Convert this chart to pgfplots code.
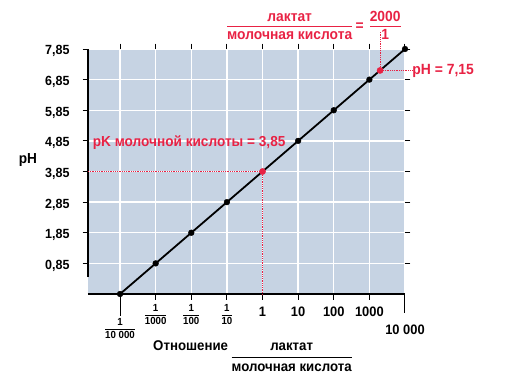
\documentclass[border=0pt]{standalone}
\usepackage{fontspec}
\setmainfont[FakeStretch=0.94]{Liberation Sans}
\usepackage{pgfplots}
\pgfplotsset{compat=1.18}
\definecolor{bg}{RGB}{198,211,227}
\definecolor{myred}{RGB}{232,34,68}
\setlength\arrayrulewidth{0.8pt}
\newcommand\fr[2]{\begin{tabular}{@{}c@{}}#1\\[0pt]\hline\noalign{\vskip1pt}#2\end{tabular}}
\newcommand\frb[2]{\begin{tabular}{@{}c@{}}#1\\[1pt]\hline\noalign{\vskip2pt}#2\end{tabular}}
\newcommand\sfr[2]{{\setlength\arrayrulewidth{0.6pt}\fontsize{10.3}{11}\selectfont\begin{tabular}{@{}c@{}}#1\\[0pt]\hline\noalign{\vskip1pt}#2\end{tabular}}}
\newcommand\bl[1]{\rule{0pt}{13pt}#1}
\tikzset{ylab/.style={anchor=base west, inner sep=0pt, font=\fontsize{13.3}{15}\selectfont}}
\begin{document}
\bfseries
\begin{tikzpicture}[x=1pt,y=1pt]
\begin{axis}[
  scale only axis, width=317pt, height=245pt,
  at={(0,0)}, anchor=south west,
  xmode=log, log basis x=10,
  xmin=1.2589e-5, xmax=10000, ymin=-0.15, ymax=7.85,
  clip=false,
  axis background/.style={fill=bg},
  axis line style={draw=none},
  grid=major, major grid style={white, line width=1.4pt},
  xtick={0.0001,0.001,0.01,0.1,1,10,100,1000,10000},
  xticklabels={{},{\sfr{1}{1000}},{\sfr{1}{100}},{\sfr{1}{10}},{\bl{1}},{\bl{10}},{\bl{100}},{\bl{1000}},{}},
  ytick={0.85,1.85,2.85,3.85,4.85,5.85,6.85,7.85},
  yticklabels={},
  tick align=outside, major tick length=5.5pt,
  tick style={black, line width=1pt},
  x tick label style={font=\fontsize{13.7}{15}\selectfont, anchor=north, inner sep=0pt, yshift=-4pt},
]
% axis lines and long end ticks
\draw[black, line width=1.2pt] (axis cs:1.2589e-5,-0.15) -- (axis cs:10000,-0.15);
\draw[black, line width=1.2pt] (axis cs:1.2589e-5,0.4) -- (axis cs:1.2589e-5,7.85);
\draw[black, line width=1pt] (axis cs:0.0001,-0.15) -- ([yshift=-22pt]axis cs:0.0001,-0.15);
\draw[black, line width=1pt] (axis cs:10000,-0.15) -- ([yshift=-19pt]axis cs:10000,-0.15);
% red guides
\draw[myred, line width=0.8pt, densely dotted] (axis cs:1.2589e-5,3.85) -- (axis cs:1,3.85) -- (axis cs:1,-0.15);
\draw[myred, line width=0.8pt, densely dotted] (axis cs:2000,8.41) -- (axis cs:2000,7.15) -- (axis cs:15500,7.15);
% data line
\addplot[black, line width=1.8pt] coordinates {(0.0001,-0.15)(0.001,0.85)(0.01,1.85)(0.1,2.85)(1,3.85)(10,4.85)(100,5.85)(1000,6.85)(10000,7.85)};
\addplot[only marks, black, mark=*, mark size=2.9pt] coordinates {(0.0001,-0.15)(0.001,0.85)(0.01,1.85)(0.1,2.85)(10,4.85)(100,5.85)(1000,6.85)(10000,7.85)};
\addplot[only marks, myred, mark=*, mark size=3.1pt] coordinates {(1,3.85)(2000,7.15)};
\node[myred, anchor=west, font=\fontsize{14.5}{16}\selectfont, inner sep=0pt] at (axis cs:1.7e-5,4.78) {pK молочной кислоты = 3,85};
\node[myred, anchor=west, font=\fontsize{14.8}{16}\selectfont, inner sep=0.5pt] at (axis cs:15500,7.15) {pH = 7,15};
\node[anchor=north, inner sep=0pt] at ([yshift=-24pt]axis cs:0.0001,-0.15) {\sfr{1}{10 000}};
\node[anchor=north, inner sep=0pt, font=\fontsize{13.7}{15}\selectfont] at ([yshift=-31pt]axis cs:10000,-0.15) {10 000};
\end{axis}
\begin{scope}[xshift=-88pt, yshift=294pt, y=-1pt]
% y tick labels
\node[ylab] at (45,54.8) {7,85};
\node[ylab] at (45,85.5) {6,85};
\node[ylab] at (45,116.1) {5,85};
\node[ylab] at (45,146.8) {4,85};
\node[ylab] at (45,177.5) {3,85};
\node[ylab] at (45,208.2) {2,85};
\node[ylab] at (45,238.8) {1,85};
\node[ylab] at (45,269.5) {0,85};
\node[font=\fontsize{14.5}{16}\selectfont] at (28,160) {pH};
\node[myred, font=\fontsize{14.7}{17}\selectfont, inner sep=0pt, anchor=west] at (227,27) {\fr{лактат}{молочная кислота}\hspace{3.5pt}=\hspace{6pt}\fr{2000}{1}};
\node[font=\fontsize{14.1}{17}\selectfont, inner sep=0pt, anchor=base west] at (153,350) {Отношение \raisebox{-11.5pt}{\frb{лактат}{молочная кислота}}};
\end{scope}
\pgfresetboundingbox
\path (-88,-90) rectangle (418,294);
\end{tikzpicture}
\end{document}
